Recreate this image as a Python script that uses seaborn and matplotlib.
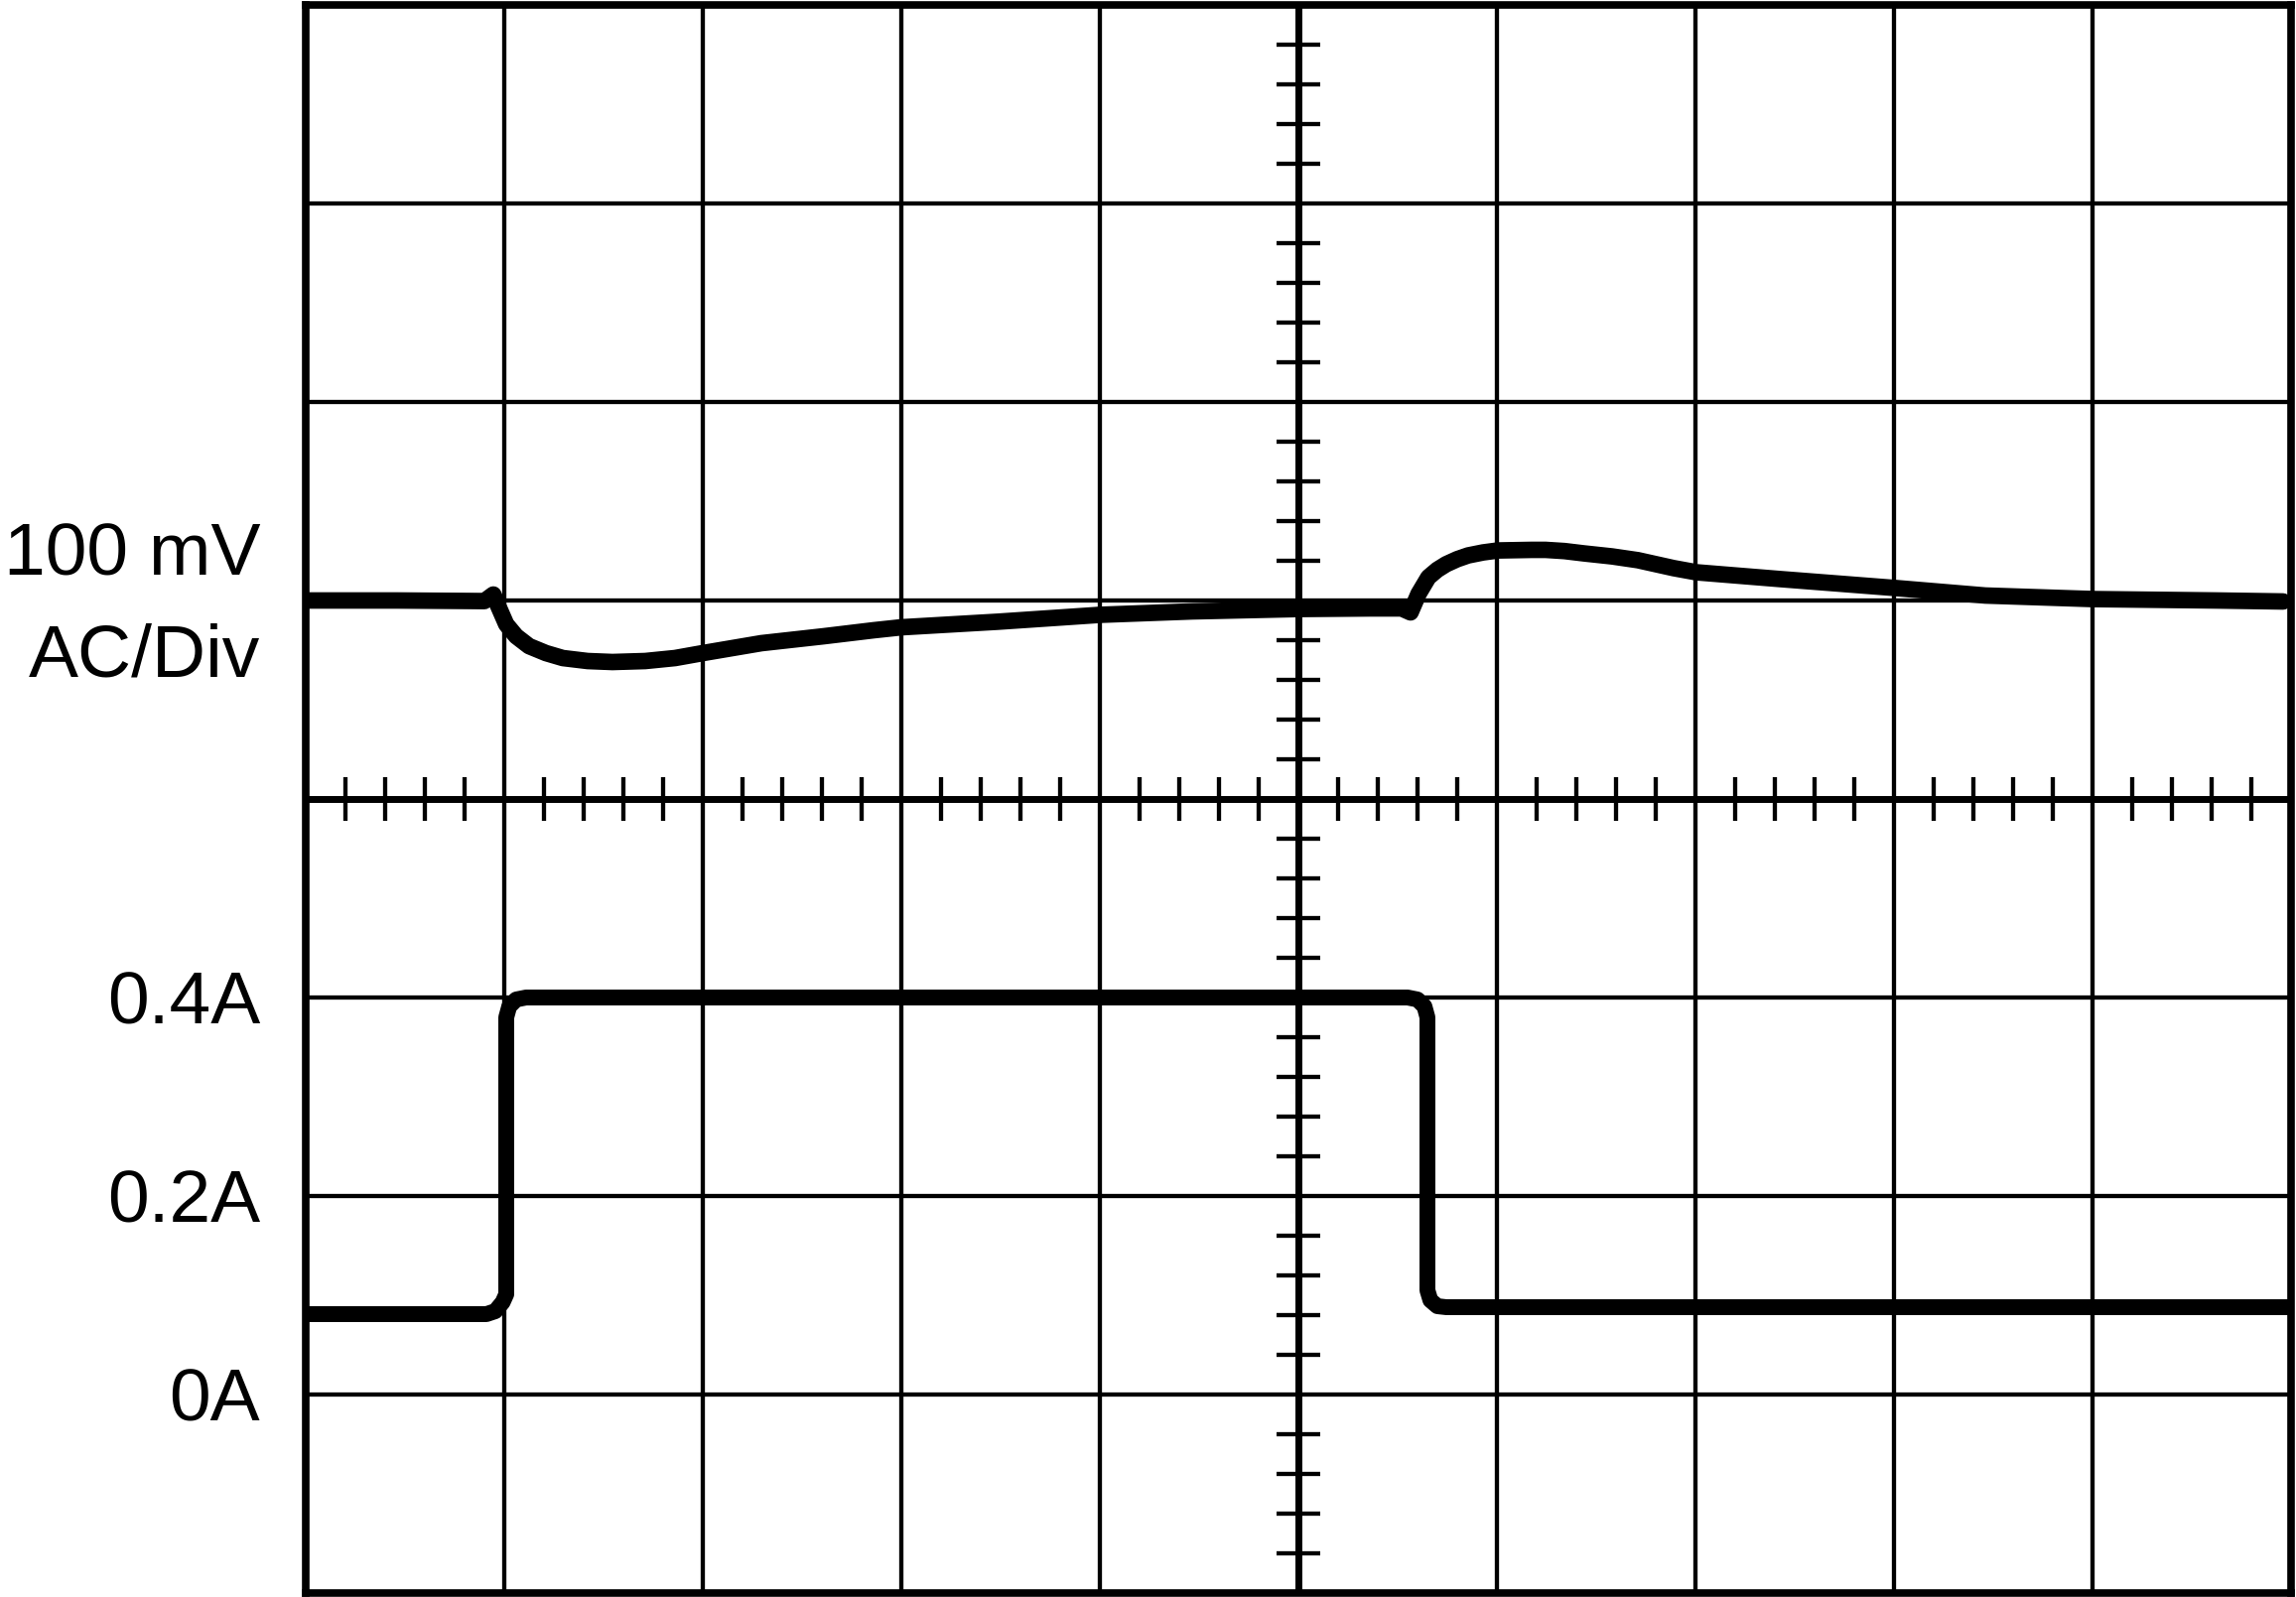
import numpy as np
import pandas as pd
import matplotlib
matplotlib.use('Agg')
import matplotlib.pyplot as plt
import seaborn as sns

# scope screen: 10 x 8 divisions, time axis in divisions
volt_t = [-5.0, -4.54, -4.10, -4.055, -4.025, -3.99, -3.94, -3.875, -3.79, -3.705,
          -3.58, -3.455, -3.29, -3.14, -3.0, -2.705, -2.39, -2.14, -2.0, -1.515,
          -0.995, -0.535, 0.0, 0.36, 0.52, 0.565, 0.605, 0.655, 0.70, 0.745, 0.80,
          0.855, 0.93, 1.005, 1.175, 1.245, 1.34, 1.44, 1.58, 1.71, 1.89, 2.005,
          2.425, 3.005, 3.46, 4.005, 4.625, 4.96]
volt_mv = [0.0, 0.0, -0.3, 3.0, -4.0, -12.0, -18.0, -23.0, -26.5, -29.0,
           -30.5, -31.0, -30.5, -29.0, -26.5, -21.5, -18.0, -15.0, -13.5, -10.7,
           -7.2, -5.5, -4.3, -4.0, -4.0, -6.0, 3.3, 11.7, 15.5, 18.3, 20.8,
           22.7, 24.2, 25.2, 25.5, 25.5, 24.9, 23.7, 22.2, 20.3, 16.3, 14.2,
           10.8, 6.3, 2.5, 0.7, 0.0, -0.5]

curr_t = [-5.0, -4.09, -4.045, -4.008, -3.99, -3.99, -3.975, -3.94, -3.89,
          0.55, 0.60, 0.635, 0.65, 0.65, 0.665, 0.70, 0.745, 5.0]
curr_a = [0.081, 0.081, 0.084, 0.093, 0.101, 0.38, 0.391, 0.398, 0.40,
          0.40, 0.398, 0.391, 0.38, 0.105, 0.095, 0.089, 0.088, 0.088]

volt_per_div = 100.0   # mV
volt_zero_div = 1
amp_per_div = 0.2      # A
amp_zero_div = -3

# labels sit on minor ticks so the major ticks only carry the graticule
label_pos = [-3, -2, -1, 0.75, 1.265]
label_text = ['0A', '0.2A', '0.4A', 'AC/Div', '100 mV']

sns.set_theme(style='white')
plt.rcParams['font.family'] = ['Liberation Sans', 'DejaVu Sans']

volt_df = pd.DataFrame({'t': volt_t, 'y': np.array(volt_mv) / volt_per_div + volt_zero_div})
curr_df = pd.DataFrame({'t': curr_t, 'y': np.array(curr_a) / amp_per_div + amp_zero_div})

fig = plt.figure(figsize=(23.13, 16.09), dpi=100)
ax = fig.add_axes([308 / 2313, 4 / 1609, 2000 / 2313, 1600 / 1609])

ax.set_xlim(-5, 5)
ax.set_ylim(-4, 4)
ax.set_xticks(range(-5, 6))
ax.set_xticklabels([])
ax.yaxis.remove_overlapping_locs = False
ax.set_yticks(range(-4, 5))
ax.set_yticklabels([])
ax.set_yticks(label_pos, minor=True)
ax.set_yticklabels(label_text, minor=True, fontsize=54)
ax.tick_params(axis='both', which='both', length=0)
ax.tick_params(axis='y', which='minor', pad=33, labelcolor='black')
ax.grid(True, which='major', color='black', linewidth=3.1)
ax.grid(False, which='minor')
ax.set_axisbelow(True)
for s in ax.spines.values():
    s.set_color('black')
    s.set_linewidth(5.5)

# centre cross with minor divisions
ax.axhline(0, color='black', lw=5, zorder=2)
ax.axvline(0, color='black', lw=5, zorder=2)
minor = np.arange(-5, 5.01, 0.2)
minor = minor[np.abs(minor - np.round(minor)) > 1e-6]
ax.vlines(minor, -0.11, 0.11, color='black', lw=3.1, zorder=2)
minor_y = np.arange(-4, 4.01, 0.2)
minor_y = minor_y[np.abs(minor_y - np.round(minor_y)) > 1e-6]
ax.hlines(minor_y, -0.11, 0.11, color='black', lw=3.1, zorder=2)

sns.lineplot(data=volt_df, x='t', y='y', estimator=None, sort=False, ax=ax,
             color='black', linewidth=12, solid_joinstyle='round', zorder=3)
sns.lineplot(data=curr_df, x='t', y='y', estimator=None, sort=False, ax=ax,
             color='black', linewidth=11.5, solid_joinstyle='round', zorder=3)
ax.set_xlabel('')
ax.set_ylabel('')

fig.savefig('out.png', dpi=100, facecolor='white')
